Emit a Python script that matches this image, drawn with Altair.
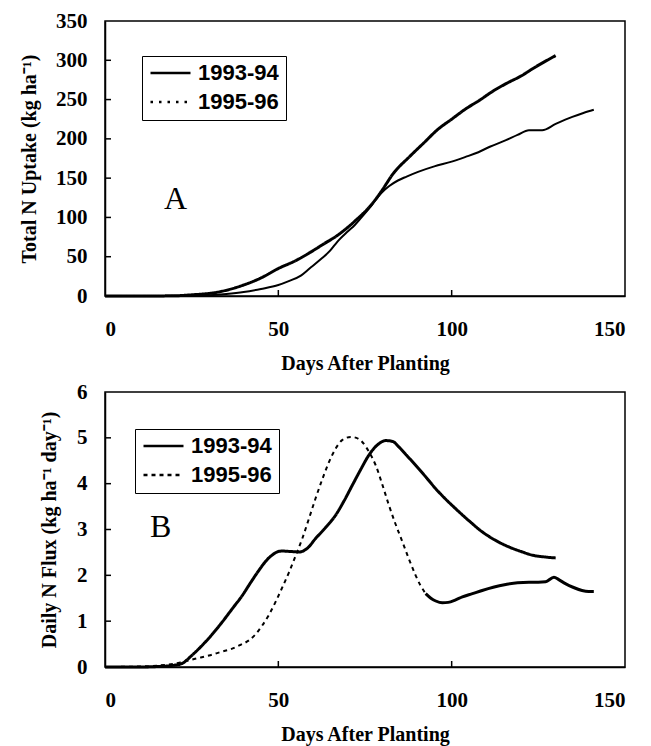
import altair as alt
import pandas as pd

# ---------------- data ----------------
series = ["1993-94", "1995-96"]

# Panel A: total N uptake (kg/ha)
a_days_9394 = [0, 10, 20, 25, 32, 40, 45, 50, 55, 59, 63, 67, 72, 77, 80, 83, 88, 92, 96, 100,
               104, 108, 112, 116, 120, 124, 130]
a_vals_9394 = [0, 0, 0.3, 1.5, 4.5, 14, 23, 35, 45, 55, 66, 77, 95, 117, 135, 155, 178, 195, 212, 225,
               238, 249, 261, 271, 280, 291, 306]
a_days_9596 = [0, 15, 25, 30, 35, 40, 45, 50, 53, 56.5, 59, 62.3, 65, 67, 70, 72, 74, 76.3, 78, 79.7,
               82, 84.5, 87, 90.3, 95, 100, 104, 107.7, 111, 115.5, 119, 122.3, 124, 126.1, 130,
               134.8, 138, 141]
a_vals_9596 = [0, 0, 0.3, 0.9, 2.5, 5, 9, 14, 19, 26, 35, 47, 58, 69, 82, 90, 100, 112, 122, 131,
               140, 147, 152, 158, 165, 171, 177, 183, 190, 198, 205, 211, 211, 211, 219,
               228, 233, 237]

# Panel B: daily N flux (kg/ha/day)
b_days_9394 = [0, 10, 15, 20, 22.3, 25, 28, 31, 33.8, 36.7, 39.6, 42, 44.4, 46.5, 48.2, 50, 51.1,
               53.5, 56, 58.5, 60.7, 63.5, 66.5, 69, 71.3, 73.7, 76.1, 78.5, 81, 83, 84.8, 87,
               89.6, 92.5, 95.4, 98.3, 101.2, 105, 108.8, 112.5, 116.5, 120, 123.3, 127, 130]
b_vals_9394 = [0, 0, 0.01, 0.04, 0.08, 0.25, 0.47, 0.72, 0.98, 1.27, 1.56, 1.84, 2.11, 2.32, 2.44,
               2.52, 2.53, 2.52, 2.51, 2.6, 2.8, 3.03, 3.31, 3.63, 3.96, 4.3, 4.62, 4.84, 4.94,
               4.92, 4.80, 4.62, 4.40, 4.15, 3.89, 3.66, 3.45, 3.19, 2.95, 2.77, 2.62, 2.52, 2.44,
               2.40, 2.38]
b_days_9596_dash = [0, 10, 15, 20, 22.3, 26, 30, 33.5, 36.7, 39, 41.5, 43.5, 45.4, 47.3, 49.2,
                    51.1, 53.1, 55, 56.9, 58.8, 60.7, 62.7, 64.6, 66.5, 68.4, 70.9, 72.5, 74.2,
                    76.1, 78.1, 80, 81.9, 83.8, 85.8, 87.7, 89.6, 91, 92.5]
b_vals_9596_dash = [0, 0.01, 0.03, 0.07, 0.11, 0.18, 0.25, 0.33, 0.40, 0.48, 0.58, 0.72, 0.91,
                    1.14, 1.42, 1.73, 2.07, 2.43, 2.80, 3.23, 3.67, 4.10, 4.47, 4.76, 4.95, 5.02,
                    5.00, 4.91, 4.70, 4.40, 3.98, 3.53, 3.12, 2.73, 2.35, 2.0, 1.78, 1.60]
b_days_9596_solid = [92.5, 94, 95.4, 97.3, 99, 101, 103.1, 106, 108.8, 112, 115.6, 119, 122.3,
                     125, 127.1, 129.5, 131, 132.8, 135, 137.6, 139.5, 141]
b_vals_9596_solid = [1.60, 1.50, 1.44, 1.40, 1.41, 1.46, 1.53, 1.60, 1.67, 1.74, 1.80, 1.84, 1.85,
                     1.85, 1.86, 1.96, 1.90, 1.82, 1.74, 1.67, 1.65, 1.65]

x_ticks = [0, 50, 100, 150]
x_inner_ticks = [50, 100]
a_y_ticks = [0, 50, 100, 150, 200, 250, 300, 350]
a_y_inner = [50, 100, 150, 200, 250, 300]
b_y_ticks = [0, 1, 2, 3, 4, 5, 6]
b_y_inner = [1, 2, 3, 4, 5]

# ---------------- styling ----------------
W, H = 520, 275
SERIF = "Liberation Serif"
SANS = "Liberation Sans"


def df(days, vals, name):
    return pd.DataFrame({"day": days, "val": vals, "series": name})


def panel(ymax, yticks, yinner, ytitle, title_pad, dash_range, legend_xy,
          solid_legend_layers, plain_layers, letter, letter_pos):
    X = alt.X("day:Q", scale=alt.Scale(domain=[0, 150], nice=False),
              axis=alt.Axis(values=x_ticks, title="Days After Planting", ticks=False,
                            labelPadding=22, titlePadding=14, grid=False))
    Y = alt.Y("val:Q", scale=alt.Scale(domain=[0, ymax], nice=False),
              axis=alt.Axis(values=yticks, title=ytitle, ticks=False, labelPadding=18,
                            titlePadding=title_pad, grid=False))
    dash = alt.StrokeDash(
        "series:N",
        scale=alt.Scale(domain=series, range=dash_range),
        legend=alt.Legend(title=None, orient="none", legendX=legend_xy[0], legendY=legend_xy[1],
                          direction="vertical", symbolType="stroke", symbolSize=1600,
                          symbolStrokeWidth=2.5, symbolStrokeColor="black",
                          labelFont=SANS, labelFontSize=22, labelFontWeight="bold",
                          labelColor="black", labelOffset=6, strokeColor="black",
                          fillColor="white", padding=7, rowPadding=7, clipHeight=20),
    )
    layers = []
    for d, w in solid_legend_layers:
        layers.append(alt.Chart(d).mark_line(color="black", strokeWidth=w, interpolate="monotone")
                      .encode(x=X, y=Y, strokeDash=dash))
    for d, w in plain_layers:
        layers.append(alt.Chart(d).mark_line(color="black", strokeWidth=w, interpolate="monotone")
                      .encode(x=X, y=Y))
    layers.append(alt.Chart(pd.DataFrame({"val": yinner})).mark_rule(color="black", strokeWidth=1.5)
                  .encode(y=Y, x=alt.value(0), x2=alt.value(6)))
    layers.append(alt.Chart(pd.DataFrame({"day": x_inner_ticks})).mark_rule(color="black", strokeWidth=1.5)
                  .encode(x=X, y=alt.value(H), y2=alt.value(H - 6)))
    layers.append(alt.Chart(pd.DataFrame({"day": [letter_pos[0]], "val": [letter_pos[1]],
                                          "label": [letter]}))
                  .mark_text(align="left", baseline="middle", font=SERIF, fontSize=32,
                             color="black")
                  .encode(x=X, y=Y, text="label:N"))
    return alt.layer(*layers).properties(width=W, height=H)


panel_a = panel(
    350, a_y_ticks, a_y_inner, "Total N Uptake (kg ha⁻¹)", 16,
    [[1, 0], [2.5, 6]], (37, 35),
    [(df(a_days_9394, a_vals_9394, "1993-94"), 3)],
    [(df(a_days_9596, a_vals_9596, "1995-96"), 2)],
    "A", (17, 123),
)

panel_b = panel(
    6, b_y_ticks, b_y_inner, "Daily N Flux (kg ha⁻¹ day⁻¹)", 17,
    [[1, 0], [4, 4]], (30, 37),
    [(df(b_days_9394, b_vals_9394, "1993-94"), 3),
     (df(b_days_9596_dash, b_vals_9596_dash, "1995-96"), 2)],
    [(df(b_days_9596_solid, b_vals_9596_solid, "1995-96"), 3)],
    "B", (13, 3.05),
)

chart = (
    alt.vconcat(panel_a, panel_b, spacing=96, bounds="flush")
    .resolve_scale(x="independent", y="independent", strokeDash="independent")
    .resolve_legend(strokeDash="independent")
    .properties(padding={"left": 10, "top": 1, "right": 5, "bottom": 5})
    .configure_view(stroke="black", strokeWidth=1.5)
    .configure_axis(labelFont=SERIF, labelFontSize=21, labelFontWeight="bold", labelColor="black",
                    titleFont=SERIF, titleFontSize=20, titleFontWeight="bold", titleColor="black",
                    domainColor="black", domainWidth=1.5)
)

chart.save("out.html", embed_options={"renderer": "svg", "actions": False})
